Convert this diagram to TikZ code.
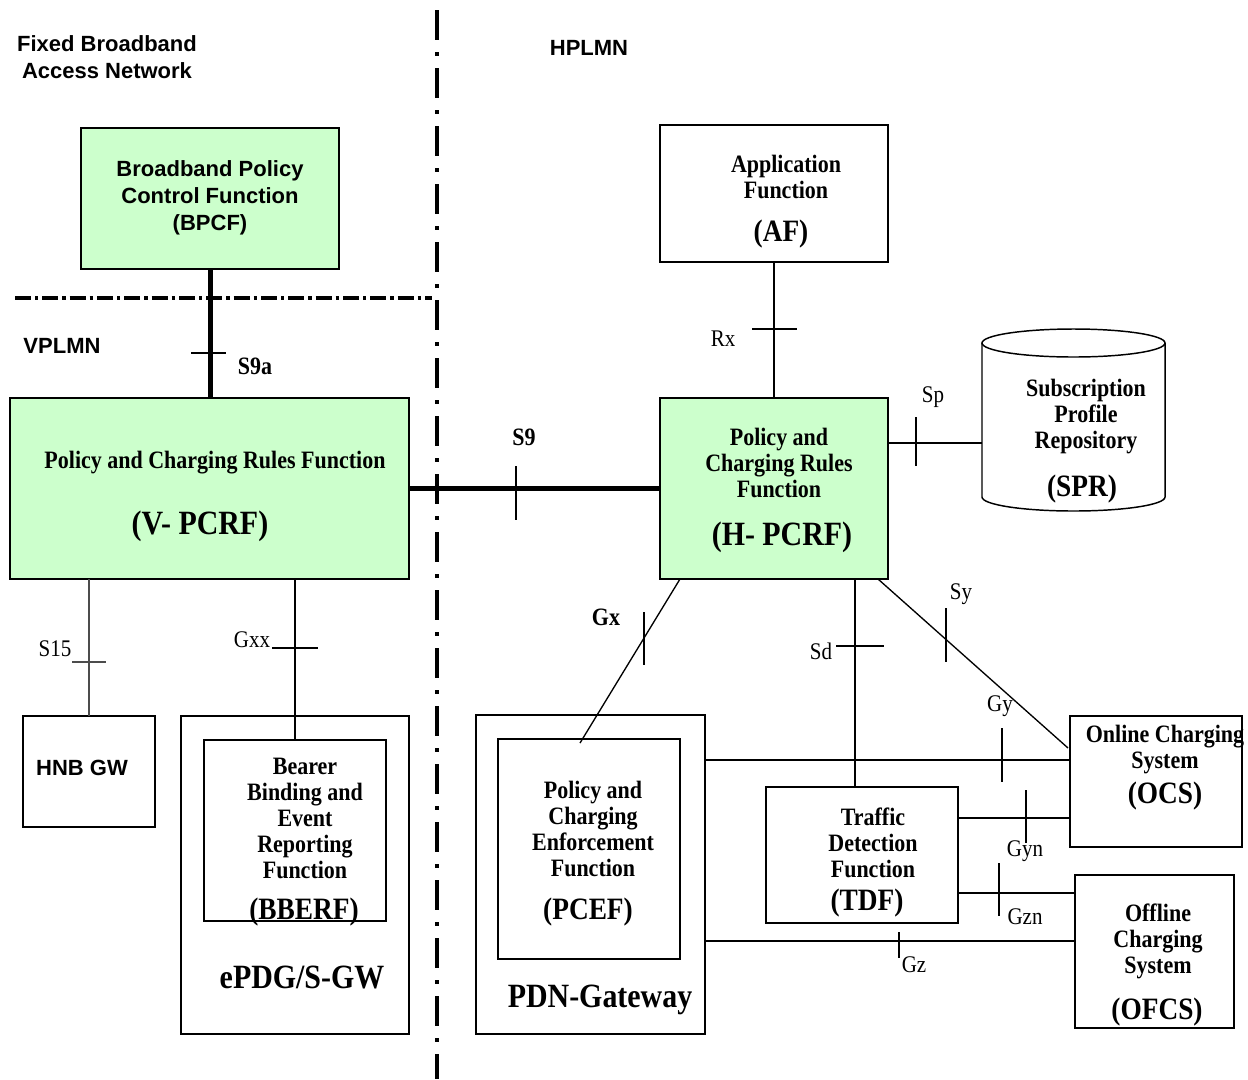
\documentclass[tikz,border=0pt]{standalone}
\usepackage{fontspec}
\setmainfont{Liberation Serif}[FakeStretch=0.88]
\newfontfamily\arialf{Liberation Sans}
\usetikzlibrary{fit,calc}
\definecolor{pcrfgreen}{HTML}{CCFFCC}
\begin{document}
\begin{tikzpicture}[x=0.75pt,y=-0.75pt,
 box/.style={draw=black,line width=1.1pt,inner sep=0pt,outer sep=0pt},
 gbox/.style={box,fill=pcrfgreen},
 txt/.style={inner sep=0pt,align=center,font=\fontsize{18.75pt}{19.5pt}\selectfont\bfseries},
 big/.style={inner sep=0pt,font=\fontsize{25.5pt}{28pt}\selectfont\bfseries},
 mid/.style={inner sep=0pt,font=\fontsize{23.3pt}{26pt}\selectfont\bfseries},
 sans/.style={inner sep=0pt,align=center,font=\arialf\fontsize{16.5pt}{20.25pt}\selectfont\bfseries},
 lbl/.style={inner sep=0pt,font=\fontsize{17.9pt}{19pt}\selectfont},
 blbl/.style={inner sep=0pt,font=\fontsize{18.75pt}{19pt}\selectfont\bfseries},
 conn/.style={line width=1pt},
 fat/.style={line width=3.75pt},
 tickmark/.style={line width=0.8pt},
 vborder/.style={line width=3pt,dash pattern=on 22.5pt off 9pt on 3pt off 9pt},
 hborder/.style={line width=3pt,dash pattern=on 12pt off 3pt on 2.5pt off 3pt}
]
\fill[white] (0,0) rectangle (1248,1079);
\useasboundingbox (0,0) rectangle (1248,1079);

% domain borders
\draw[vborder] (437,10) -- (437,1079);
\draw[hborder] (15,298) -- (432,298);

% domain labels
\node[sans] (fban) at (107,57) {Fixed Broadband\\Access Network};
\node[sans] (hplmn) at (589,48) {HPLMN};
\node[sans] (vplmn) at (62,346) {VPLMN};

% boxes
\node[gbox, fit={(81,128) (339,269)}] (bpcf) {};
\node[gbox, fit={(10,398) (409,579)}] (vpcrf) {};
\node[gbox, fit={(660,398) (888,579)}] (hpcrf) {};
\node[box, fit={(660,125) (888,262)}] (af) {};
\node[fit={(982,330) (1165,511)}, inner sep=0pt, outer sep=0pt] (spr) {};
\draw[line width=1.1pt] (982,343) -- (982,497) arc[start angle=180,end angle=360,x radius=68.625pt,y radius=10.5pt] -- (1165,343);
\draw[line width=1.1pt] (1073.5,343) ellipse [x radius=68.625pt, y radius=10.5pt];
\node[box, fit={(23,716) (155,827)}] (hnb) {};
\node[box, fit={(181,716) (409,1034)}] (epdg) {};
\node[box, fit={(204,740) (386,921)}] (bberf) {};
\node[box, fit={(476,715) (705,1034)}] (pdn) {};
\node[box, fit={(498,739) (680,959)}] (pcef) {};
\node[box, fit={(766,787) (958,923)}] (tdf) {};
\node[box, fit={(1070,716) (1242,847)}] (ocs) {};
\node[box, fit={(1075,875) (1234,1028)}] (ofcs) {};

% connectors
\draw[fat] (bpcf.south) -- (bpcf.south |- vpcrf.north);
\draw[fat] (vpcrf.east) -- (hpcrf.west);
\draw[conn] (af.south) -- (hpcrf.north);
\coordinate (ySp) at (0,443);
\draw[conn] (hpcrf.east |- ySp) -- (spr.west |- ySp);
\draw[conn] ($(hpcrf.south west)+(20,0)$) -- ($(pcef.north west)+(82,4)$);
\coordinate (sdA) at ($(hpcrf.south east)+(-33,0)$);
\draw[conn] (sdA) -- (sdA |- tdf.north);
\draw[conn] ($(hpcrf.south east)+(-10,0)$) -- ($(ocs.north west)+(-2,32)$);
\coordinate (yGy) at (0,760);
\draw[conn] (pdn.east |- yGy) -- (ocs.west |- yGy);
\coordinate (yGyn) at (0,818);
\draw[conn] (tdf.east |- yGyn) -- (ocs.west |- yGyn);
\coordinate (yGzn) at (0,893);
\draw[conn] (tdf.east |- yGzn) -- (ofcs.west |- yGzn);
\coordinate (yGz) at (0,941);
\draw[conn] (pdn.east |- yGz) -- (ofcs.west |- yGz);
\draw[conn] (bberf.north |- vpcrf.south) -- (bberf.north);
\draw[conn, black!70] (hnb.north |- vpcrf.south) -- (hnb.north);

% reference point ticks
\draw[tickmark] (191,353) -- (226,353);
\draw[tickmark] (516,466) -- (516,520);
\draw[tickmark] (752,329) -- (797,329);
\draw[tickmark] (916,417) -- (916,466);
\draw[tickmark] (644,612) -- (644,665);
\draw[tickmark] (836,646) -- (884,646);
\draw[tickmark] (946,608) -- (946,662);
\draw[tickmark] (1002,728) -- (1002,782);
\draw[tickmark] (1026,790) -- (1026,843);
\draw[tickmark] (999,863) -- (999,916);
\draw[tickmark] (899,932) -- (899,958);
\draw[tickmark] (272,648) -- (318,648);
\draw[tickmark, black!70] (72,662) -- (106,662);

% reference point labels
\node[blbl] (lS9a) at (255,366) {S9a};
\node[blbl] (lS9) at (524,437) {S9};
\node[lbl] (lRx) at (723,339) {Rx};
\node[lbl] (lSp) at (933,397) {Sp};
\node[blbl] (lGx) at (606,617) {Gx};
\node[lbl] (lSd) at (821,651) {Sd};
\node[lbl] (lSy) at (961,594) {Sy};
\node[lbl] (lGy) at (1000,706) {Gy};
\node[lbl] (lGyn) at (1025,851) {Gyn};
\node[lbl] (lGzn) at (1025,917) {Gzn};
\node[lbl] (lGz) at (914,965) {Gz};
\node[lbl] (lGxx) at (252,640) {Gxx};
\node[lbl] (lS15) at (55,649) {S15};

% box texts
\node[sans] (tbpcf) at (210,198) {Broadband Policy\\Control Function\\(BPCF)};
\node[txt] (tvpcrf) at (215,463) {Policy and Charging Rules Function};
\node[big] (tvpcrf2) at (200,526) {(V- PCRF)};
\node[txt] (thpcrf) at (779,463) {Policy and\\Charging Rules\\Function};
\node[big] (thpcrf2) at (782,537) {(H- PCRF)};
\node[txt] (taf) at (786,177) {Application\\Function};
\node[mid] (taf2) at (781,234) {(AF)};
\node[txt] (tspr) at (1086,417) {Subscription\\Profile\\Repository};
\node[mid] (tspr2) at (1082,489) {(SPR)};
\node[sans] (thnb) at (82,768) {HNB GW};
\node[txt] (tbberf) at (305,818) {Bearer\\Binding and\\Event\\Reporting\\Function};
\node[mid] (tbberf2) at (304,912) {(BBERF)};
\node[big] (tepdg) at (302,977) {ePDG/S-GW};
\node[txt] (tpcef) at (593,829) {Policy and\\Charging\\Enforcement\\Function};
\node[mid] (tpcef2) at (588,912) {(PCEF)};
\node[big] (tpdn) at (600,1000) {PDN-Gateway};
\node[txt] (ttdf) at (873,843) {Traffic\\Detection\\Function};
\node[mid] (ttdf2) at (867,903) {(TDF)};
\node[txt] (tocs) at (1165,750) {Online Charging\\System};
\node[mid] (tocs2) at (1165,796) {(OCS)};
\node[txt] (tofcs) at (1158,941) {Offline\\Charging\\System};
\node[mid] (tofcs2) at (1157,1012) {(OFCS)};
\end{tikzpicture}
\end{document}
